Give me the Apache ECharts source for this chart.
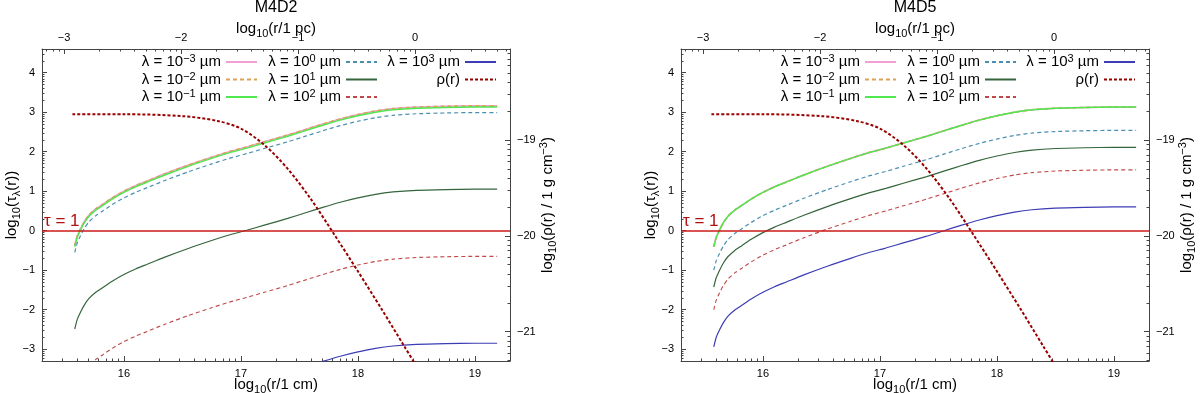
<!DOCTYPE html>
<html>
<head>
<meta charset="utf-8">
<script src="https://cdn.jsdelivr.net/npm/echarts@6/dist/echarts.min.js"></script>
<style>
  html, body { margin: 0; padding: 0; background: #fff; }
  #chart { width: 1200px; height: 393px; }
</style>
</head>
<body>
<div id="chart"></div>
<script>
// radius grid, log10(r / 1 cm), shared by all tau curves
const logR = [15.58, 15.60, 15.63, 15.66, 15.70, 15.76, 15.82, 15.90, 16.00, 16.10,
  16.20, 16.35, 16.55, 16.75, 16.90, 17.05, 17.20, 17.40, 17.56, 17.70,
  17.85, 18.00, 18.15, 18.30, 18.50, 18.75, 19.00, 19.19];

// M4D2 : log10(tau_lambda)
const d2Lm3 = [-0.38, -0.15, 0.05, 0.22, 0.39, 0.55, 0.67, 0.83, 1.00, 1.14, 1.26, 1.44, 1.66, 1.86, 2.00, 2.12, 2.25, 2.42, 2.57, 2.70, 2.83, 2.94, 3.03, 3.09, 3.13, 3.15, 3.16, 3.16];
const d2Lm2 = [-0.38, -0.15, 0.05, 0.22, 0.39, 0.55, 0.67, 0.83, 1.00, 1.14, 1.26, 1.44, 1.66, 1.86, 2.00, 2.12, 2.25, 2.42, 2.57, 2.70, 2.83, 2.94, 3.03, 3.09, 3.13, 3.15, 3.16, 3.16];
const d2Lm1 = [-0.41, -0.18, 0.02, 0.19, 0.36, 0.52, 0.64, 0.80, 0.97, 1.11, 1.23, 1.41, 1.63, 1.83, 1.97, 2.09, 2.22, 2.39, 2.54, 2.67, 2.80, 2.91, 3.00, 3.06, 3.10, 3.12, 3.13, 3.13];
const d2L0 = [-0.55, -0.32, -0.12, 0.05, 0.22, 0.38, 0.50, 0.66, 0.83, 0.97, 1.09, 1.27, 1.49, 1.69, 1.83, 1.95, 2.08, 2.25, 2.40, 2.53, 2.66, 2.77, 2.86, 2.92, 2.96, 2.98, 2.99, 2.99];
const d2L1 = [-2.49, -2.26, -2.06, -1.89, -1.72, -1.56, -1.44, -1.28, -1.11, -0.97, -0.85, -0.67, -0.45, -0.25, -0.11, 0.01, 0.14, 0.31, 0.46, 0.59, 0.72, 0.83, 0.92, 0.98, 1.02, 1.04, 1.05, 1.05];
const d2L2 = [-4.19, -3.96, -3.76, -3.59, -3.42, -3.26, -3.14, -2.98, -2.81, -2.67, -2.55, -2.37, -2.15, -1.95, -1.81, -1.69, -1.56, -1.39, -1.24, -1.11, -0.98, -0.87, -0.78, -0.72, -0.68, -0.66, -0.65, -0.65];
const d2L3 = [-6.39, -6.16, -5.96, -5.79, -5.62, -5.46, -5.34, -5.18, -5.01, -4.87, -4.75, -4.57, -4.35, -4.15, -4.01, -3.89, -3.76, -3.59, -3.44, -3.31, -3.18, -3.07, -2.98, -2.92, -2.88, -2.86, -2.85, -2.85];

// M4D5 : log10(tau_lambda)
const d5Lm3 = [-0.41, -0.18, 0.02, 0.19, 0.36, 0.52, 0.64, 0.80, 0.97, 1.11, 1.23, 1.41, 1.63, 1.83, 1.97, 2.09, 2.22, 2.39, 2.54, 2.67, 2.80, 2.91, 3.00, 3.06, 3.10, 3.12, 3.13, 3.13];
const d5Lm2 = [-0.41, -0.18, 0.02, 0.19, 0.36, 0.52, 0.64, 0.80, 0.97, 1.11, 1.23, 1.41, 1.63, 1.83, 1.97, 2.09, 2.22, 2.39, 2.54, 2.67, 2.80, 2.91, 3.00, 3.06, 3.10, 3.12, 3.13, 3.13];
const d5Lm1 = [-0.41, -0.18, 0.02, 0.19, 0.36, 0.52, 0.64, 0.80, 0.97, 1.11, 1.23, 1.41, 1.63, 1.83, 1.97, 2.09, 2.22, 2.39, 2.54, 2.67, 2.80, 2.91, 3.00, 3.06, 3.10, 3.12, 3.13, 3.13];
const d5L0 = [-1.00, -0.77, -0.57, -0.40, -0.23, -0.07, 0.05, 0.21, 0.38, 0.52, 0.64, 0.82, 1.04, 1.24, 1.38, 1.50, 1.63, 1.80, 1.95, 2.08, 2.21, 2.32, 2.41, 2.47, 2.51, 2.53, 2.54, 2.54];
const d5L1 = [-1.43, -1.20, -1.00, -0.83, -0.66, -0.50, -0.38, -0.22, -0.05, 0.09, 0.21, 0.39, 0.61, 0.81, 0.95, 1.07, 1.20, 1.37, 1.52, 1.65, 1.78, 1.89, 1.98, 2.04, 2.08, 2.10, 2.11, 2.11];
const d5L2 = [-2.00, -1.77, -1.57, -1.40, -1.23, -1.07, -0.95, -0.79, -0.62, -0.48, -0.36, -0.18, 0.04, 0.24, 0.38, 0.50, 0.63, 0.80, 0.95, 1.08, 1.21, 1.32, 1.41, 1.47, 1.51, 1.53, 1.54, 1.54];
const d5L3 = [-2.94, -2.71, -2.51, -2.34, -2.17, -2.01, -1.89, -1.73, -1.56, -1.42, -1.30, -1.12, -0.90, -0.70, -0.56, -0.44, -0.31, -0.14, 0.01, 0.14, 0.27, 0.38, 0.47, 0.53, 0.57, 0.59, 0.60, 0.60];

// density profile (same in both models), log10(rho / 1 g cm^-3)
const rhoR = [15.56, 16.00, 16.50, 16.80, 17.00, 17.20, 17.40, 17.60, 17.80, 18.00, 18.20, 18.40, 18.50];
const rhoV = [-18.73, -18.73, -18.75, -18.80, -18.88, -19.05, -19.30, -19.62, -19.99, -20.37, -20.76, -21.16, -21.36];

// tick labels
const cmTicks = [16, 17, 18, 19];
const pcTicks = [-3, -2, -1, 0];
const tauTicks = [-3, -2, -1, 0, 1, 2, 3, 4];
const rhoTicks = [-21, -20, -19];

const titles = ['M4D2', 'M4D5'];
const panelTau = [
  [d2Lm3, d2Lm2, d2Lm1, d2L0, d2L1, d2L2, d2L3],
  [d5Lm3, d5Lm2, d5Lm1, d5L0, d5L1, d5L2, d5L3]
];

const pcOffset = 18.489; // log10(1 pc / 1 cm)
const xMin = 15.3, xMax = 19.3;
const tauMin = -3.3, tauMax = 4.6;
const rhoMin = -21.307, rhoMax = -18.049;

const FONT = 'Liberation Sans';
const AXIS_COL = '#444';
const gridLeft = [42, 681];
const gridW = 468, gridTop = 49, gridH = 312;

// series look, same order as the tau arrays
const lam = [
  { name: 'l-3', sup: '−3', color: '#f2a0d4', type: 'solid', width: 1.6 },
  { name: 'l-2', sup: '−2', color: '#dca25a', type: [4, 3], width: 1.6 },
  { name: 'l-1', sup: '−1', color: '#4fe84f', type: 'solid', width: 1.4 },
  { name: 'l0', sup: '0', color: '#4a8fb2', type: [4, 3], width: 1.2 },
  { name: 'l1', sup: '1', color: '#35653a', type: 'solid', width: 1.2 },
  { name: 'l2', sup: '2', color: '#c04848', type: [4, 3], width: 1.1 },
  { name: 'l3', sup: '3', color: '#3c3cb4', type: 'solid', width: 1.2 }
];
const RHO = 'rho';

function mf(v) { return v < 0 ? '−' + Math.abs(v) : String(v); }

function logMinors(lo, hi) {
  const out = [];
  for (let n = Math.floor(lo) - 1; n <= Math.ceil(hi); n++) {
    for (let k = 2; k <= 9; k++) {
      const v = n + Math.log10(k);
      if (v > lo && v < hi) out.push(v);
    }
  }
  return out;
}

const subRich = {
  t: { fontSize: 15, fontFamily: FONT, color: '#000', lineHeight: 20 },
  s: { fontSize: 11, fontFamily: FONT, color: '#000', verticalAlign: 'bottom', lineHeight: 11 },
  p: { fontSize: 11, fontFamily: FONT, color: '#000', verticalAlign: 'top', lineHeight: 11 }
};

function mainAxis(gi, pos, min, max, ticks, name, nameGap, nameRotate) {
  const ax = {
    type: 'value', gridIndex: gi, position: pos, min: min, max: max,
    axisLine: { show: true, onZero: false, lineStyle: { color: AXIS_COL, width: 1 } },
    axisTick: { show: true, inside: true, length: 5, customValues: ticks, lineStyle: { color: AXIS_COL } },
    axisLabel: { show: true, customValues: ticks, formatter: mf, color: '#000', fontSize: 11, fontFamily: FONT, margin: 7 },
    splitLine: { show: false },
    name: name, nameLocation: 'middle', nameGap: nameGap, nameMoveOverlap: false,
    nameTextStyle: { rich: subRich }
  };
  if (nameRotate !== undefined) ax.nameRotate = nameRotate;
  return ax;
}

function minorAxis(gi, pos, min, max) {
  return {
    type: 'value', gridIndex: gi, position: pos, min: min, max: max,
    axisLine: { show: false, onZero: false },
    axisTick: { show: true, inside: true, length: 2.5, customValues: logMinors(min, max), lineStyle: { color: AXIS_COL } },
    axisLabel: { show: false },
    splitLine: { show: false }
  };
}

const grid = [], xAxis = [], yAxis = [], series = [], legend = [], title = [];

for (let p = 0; p < 2; p++) {
  grid.push({ left: gridLeft[p], top: gridTop, width: gridW, height: gridH, outerBoundsMode: 'none', containLabel: false });
  title.push({
    text: titles[p], left: gridLeft[p] + gridW / 2, top: 0, textAlign: 'center', padding: 0,
    textStyle: { fontSize: 16, fontWeight: 'normal', fontFamily: FONT, color: '#000' }
  });

  xAxis.push(mainAxis(p, 'bottom', xMin, xMax, cmTicks, '{t|log}{s|10}{t|(r/1 cm)}', 14));
  xAxis.push(minorAxis(p, 'bottom', xMin, xMax));
  const top = mainAxis(p, 'top', xMin - pcOffset, xMax - pcOffset, pcTicks, '{t|log}{s|10}{t|(r/1 pc)}', 10);
  top.axisLabel.margin = 6;
  xAxis.push(top);
  xAxis.push(minorAxis(p, 'top', xMin - pcOffset, xMax - pcOffset));

  yAxis.push(mainAxis(p, 'left', tauMin, tauMax, tauTicks, '{t|log}{s|10}{t|(τ}{s|λ}{t|(r))}', 20, 90));
  yAxis.push(minorAxis(p, 'left', tauMin, tauMax));
  yAxis.push(mainAxis(p, 'right', rhoMin, rhoMax, rhoTicks, '{t|log}{s|10}{t|(ρ(r) / 1 g cm}{p|−3}{t|)}', 28, 90));
  yAxis.push(minorAxis(p, 'right', rhoMin, rhoMax));

  panelTau[p].forEach((ys, i) => {
    const s = {
      name: lam[i].name, type: 'line', xAxisIndex: 4 * p, yAxisIndex: 4 * p,
      data: logR.map((x, j) => [x, ys[j]]),
      showSymbol: false, symbol: 'none', smooth: 0.2, clip: true,
      lineStyle: { color: lam[i].color, width: lam[i].width, type: lam[i].type },
      itemStyle: { color: lam[i].color },
      z: 3, silent: true
    };
    if (i === 2) {
      s.markLine = {
        silent: true, symbol: 'none', animation: false,
        lineStyle: { color: '#cc1a1a', width: 1.6, type: 'solid' },
        label: { show: true, position: 'insideStartTop', formatter: 'τ = 1', color: '#b01010', fontSize: 17, fontFamily: FONT, distance: [2, 1] },
        data: [{ yAxis: 0 }]
      };
    }
    series.push(s);
  });

  series.push({
    name: RHO, type: 'line', xAxisIndex: 4 * p, yAxisIndex: 4 * p + 2,
    data: rhoR.map((x, j) => [x, rhoV[j]]),
    showSymbol: false, symbol: 'none', smooth: 0.3, clip: true,
    lineStyle: { color: '#990000', width: 2, type: [3, 2] },
    itemStyle: { color: '#990000' },
    z: 4, silent: true
  });

  // gnuplot-style key: three columns, text then sample line
  const shift = gridLeft[p] - gridLeft[0];
  const cols = [
    { right: 1200 - 258 - shift, data: ['l-3', 'l-2', 'l-1'] },
    { right: 1200 - 378 - shift, data: ['l0', 'l1', 'l2'] },
    { right: 1200 - 497 - shift, data: ['l3', RHO] }
  ];
  cols.forEach(c => {
    legend.push({
      orient: 'vertical', align: 'right', right: c.right, top: 53.5,
      padding: 0, itemGap: 0.5, itemWidth: 31, itemHeight: 17,
      selectedMode: false,
      itemStyle: { opacity: 0 },
      data: c.data,
      formatter: function (n) {
        if (n === RHO) return 'ρ(r)';
        const l = lam.find(o => o.name === n);
        return 'λ = 10{p|' + l.sup + '} µm';
      },
      textStyle: {
        fontFamily: FONT, fontSize: 15, color: '#000', lineHeight: 17,
        rich: {
          p: { fontSize: 11, fontFamily: FONT, color: '#000', verticalAlign: 'top', lineHeight: 11 }
        }
      }
    });
  });
}

const chart = echarts.init(document.getElementById('chart'));
chart.setOption({
  animation: false,
  backgroundColor: '#fff',
  title: title,
  grid: grid,
  xAxis: xAxis,
  yAxis: yAxis,
  legend: legend,
  series: series
});
</script>
</body>
</html>
